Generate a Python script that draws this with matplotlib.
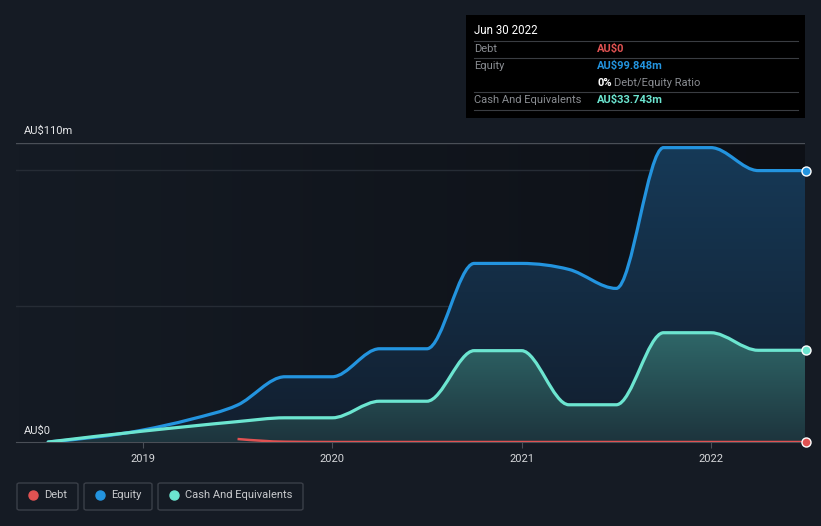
import numpy as np
import matplotlib
matplotlib.use("Agg")
import matplotlib.pyplot as plt
from matplotlib.path import Path
from matplotlib.patches import PathPatch, FancyBboxPatch
from matplotlib.colors import LinearSegmentedColormap

plt.rcParams['font.family'] = ['Roboto', 'DejaVu Sans']

# quarterly values, AU$ millions
quarters = [2018.5, 2019.0, 2019.25, 2019.5, 2019.75, 2020.0, 2020.25, 2020.5,
            2020.75, 2021.0, 2021.25, 2021.5, 2021.75, 2022.0, 2022.25, 2022.5]
equity = [0.0, 4.4, 8.3, 13.6, 24.0, 24.0, 34.3, 34.3,
          65.7, 65.7, 63.5, 56.5, 108.3, 108.3, 99.85, 99.848]
cash = [0.0, 4.0, 5.8, 7.5, 8.9, 8.9, 15.0, 15.0,
        33.6, 33.6, 13.7, 13.7, 40.2, 40.2, 33.74, 33.743]
debt_q = [2019.5, 2019.75, 2020.0, 2020.5, 2021.0, 2021.5, 2022.0, 2022.5]
debt = [1.1, 0.1, 0.0, 0.0, 0.0, 0.0, 0.0, 0.0]

year_ticks = [2019, 2020, 2021, 2022]

BG = '#151b24'
C_EQ = '#2394df'
C_CASH = '#6ce5d0'
C_DEBT = '#e05252'


def monotone_path(x, y, close=False):
    # cubic bezier path with monotone tangents (like d3 curveMonotoneX)
    x = np.asarray(x, float)
    y = np.asarray(y, float)
    n = len(x)
    t = np.zeros(n)
    for i in range(1, n - 1):
        h0, h1 = x[i] - x[i - 1], x[i + 1] - x[i]
        s0, s1 = (y[i] - y[i - 1]) / h0, (y[i + 1] - y[i]) / h1
        p = (s0 * h1 + s1 * h0) / (h0 + h1)
        t[i] = (np.sign(s0) + np.sign(s1)) * min(abs(s0), abs(s1), 0.5 * abs(p))
    if n > 1:
        h = x[1] - x[0]
        t[0] = (3 * (y[1] - y[0]) / h - t[1]) / 2
        h = x[-1] - x[-2]
        t[-1] = (3 * (y[-1] - y[-2]) / h - t[-2]) / 2
    verts = [(x[0], y[0])]
    codes = [Path.MOVETO]
    for i in range(n - 1):
        dx = (x[i + 1] - x[i]) / 3
        verts += [(x[i] + dx, y[i] + dx * t[i]),
                  (x[i + 1] - dx, y[i + 1] - dx * t[i + 1]),
                  (x[i + 1], y[i + 1])]
        codes += [Path.CURVE4] * 3
    if close:
        verts += [(x[-1], 0), (x[0], 0), (x[0], y[0])]
        codes += [Path.LINETO, Path.LINETO, Path.CLOSEPOLY]
    return Path(verts, codes)


fig = plt.figure(figsize=(8.21, 5.26), dpi=100, facecolor=BG)
ax = fig.add_axes([16 / 821, 84 / 526, 789 / 821, 299 / 526])
ax.set_facecolor(BG)

x0, x1 = 2018.33, 2022.497
y0, y1 = 0, 110
ax.set_xlim(x0, x1)
ax.set_ylim(y0, y1)

# background gradient, darker towards the right
bg_cmap = LinearSegmentedColormap.from_list('bg', [BG, '#0d1016'])
ax.imshow(np.linspace(0, 1, 256).reshape(1, -1), cmap=bg_cmap, aspect='auto',
          extent=[x0, x1, y0, y1], zorder=0)

# grid lines
ax.axhline(110, color='#4a4f57', lw=1, zorder=1)
for g in [50, 100]:
    ax.axhline(g, color='#262c35', lw=1, zorder=1)

# equity area with gradient
eq_patch = PathPatch(monotone_path(quarters, equity, close=True), fc='none', ec='none')
ax.add_patch(eq_patch)
eq_cmap = LinearSegmentedColormap.from_list('eq', ['#121e2e', '#163a58'])
im = ax.imshow(np.linspace(0, 1, 256).reshape(-1, 1), cmap=eq_cmap, aspect='auto',
               origin='lower', extent=[x0, x1, 0, 110], zorder=2)
im.set_clip_path(eq_patch)

# cash area with gradient
cash_patch = PathPatch(monotone_path(quarters, cash, close=True), fc='none', ec='none')
ax.add_patch(cash_patch)
cash_cmap = LinearSegmentedColormap.from_list('cash', ['#1d343d', '#306a6b'])
im2 = ax.imshow(np.linspace(0, 1, 256).reshape(-1, 1), cmap=cash_cmap, aspect='auto',
                origin='lower', extent=[x0, x1, 0, 42], zorder=3)
im2.set_clip_path(cash_patch)

# lines
ax.add_patch(PathPatch(monotone_path(quarters, equity), fc='none', ec=C_EQ, lw=2.3,
                       zorder=5, capstyle='round'))
ax.add_patch(PathPatch(monotone_path(quarters, cash), fc='none', ec=C_CASH, lw=2.3,
                       zorder=5, capstyle='round'))
ax.add_patch(PathPatch(monotone_path(debt_q, debt), fc='none', ec=C_DEBT, lw=1.8,
                       zorder=6))

# end markers
for val, c in [(equity[-1], C_EQ), (cash[-1], C_CASH), (debt[-1], C_DEBT)]:
    ax.plot(quarters[-1], val, 'o', ms=6.5, mfc=c, mec='white', mew=1.0,
            zorder=8, clip_on=False)

# axes styling
for s in ['top', 'right', 'left']:
    ax.spines[s].set_visible(False)
ax.spines['bottom'].set_color('#4a4f57')
ax.set_yticks([])
ax.set_xticks(year_ticks)
ax.set_xticklabels([str(y) for y in year_ticks])
ax.tick_params(axis='x', colors='#4a4f57', labelcolor='#d5d7da', labelsize=8,
               length=4, pad=5)

fx = lambda px: px / 821
fy = lambda py: 1 - py / 526

fig.text(fx(24), fy(131), 'AU\\$110m', color='#e6e7e9', fontsize=8, va='center')
fig.text(fx(24), fy(431), 'AU\\$0', color='#e6e7e9', fontsize=8, va='center')

# tooltip box
fig.patches.append(plt.Rectangle((fx(466), fy(118)), fx(805 - 466), (118 - 15) / 526,
                                 transform=fig.transFigure, fc='#000000', ec='none',
                                 zorder=1))
fig.text(fx(474), fy(31), 'Jun 30 2022', color='white', fontsize=8.3, va='center')
for ly in [41, 58, 92, 110]:
    fig.add_artist(plt.Line2D([fx(474), fx(798)], [fy(ly), fy(ly)],
                              color='#3a3d42', lw=0.8, transform=fig.transFigure))
rows = [(49, 'Debt', 'AU\\$0', C_DEBT),
        (66, 'Equity', 'AU\\$99.848m', C_EQ),
        (100, 'Cash And Equivalents', 'AU\\$33.743m', C_CASH)]
for ry, lab, val, c in rows:
    fig.text(fx(474), fy(ry), lab, color='#8a8d92', fontsize=8, va='center')
    fig.text(fx(597), fy(ry), val, color=c, fontsize=8, va='center', weight='bold')
fig.text(fx(597), fy(83), '0%', color='white', fontsize=8, va='center', weight='bold')
fig.text(fx(614), fy(83), 'Debt/Equity Ratio', color='#8a8d92', fontsize=8, va='center')

# legend boxes
legend_items = [('Debt', C_DEBT, 17, 78), ('Equity', C_EQ, 84, 152),
                ('Cash And Equivalents', C_CASH, 158, 303)]
for lab, c, lx, rx in legend_items:
    fig.patches.append(FancyBboxPatch((fx(lx), fy(510)), fx(rx - lx), 27 / 526,
                                      boxstyle='round,pad=0,rounding_size=0.003',
                                      transform=fig.transFigure, fc='none',
                                      ec='#3a3f48', lw=1))
    fig.add_artist(plt.Line2D([fx(lx + 16)], [fy(495)], marker='o', ms=6.5, color=c,
                              lw=0, transform=fig.transFigure))
    fig.text(fx(lx + 27), fy(495), lab, color='#c8cacd', fontsize=8, va='center')

fig.savefig('out.png', dpi=100, facecolor=BG)
